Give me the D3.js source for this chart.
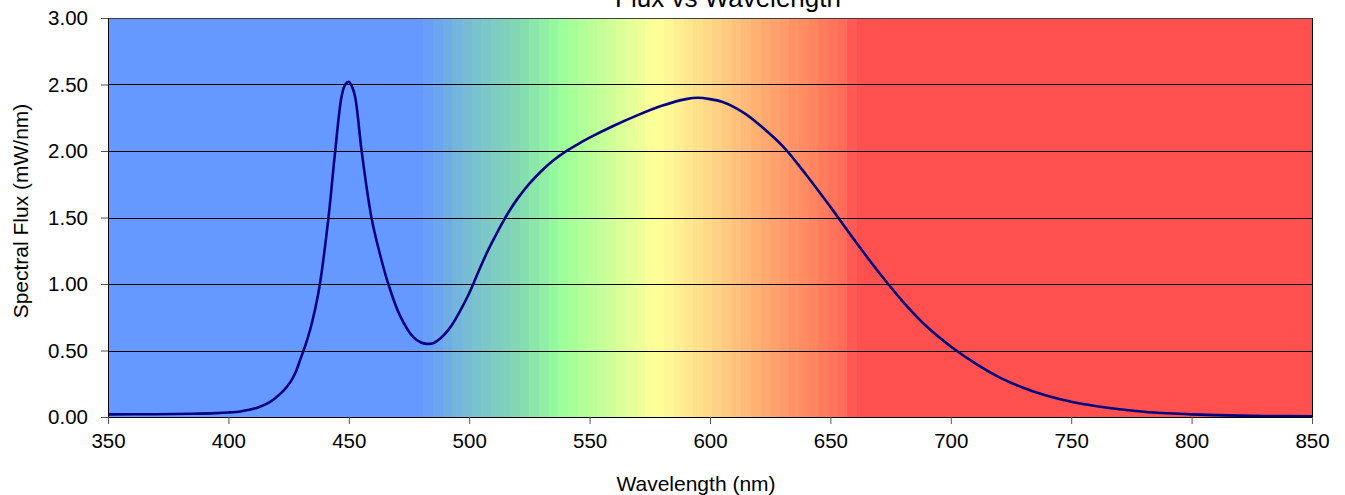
<!DOCTYPE html>
<html>
<head>
<meta charset="utf-8">
<script src="https://cdn.jsdelivr.net/npm/d3@7"></script>
<style>
  body { margin: 0; background: #fff; }
  svg text { font-family: "Liberation Sans", Arial, sans-serif; fill: #000; }
</style>
</head>
<body>
<div id="chartArea"></div>
<script>
// spectral flux (nm, mW/nm)
var wavelengths = [350, 370, 385, 395, 400, 405, 408, 412, 417, 420, 423, 426, 428, 430, 432, 434, 436, 438, 441.5, 444.3,
                   447, 448.5, 450, 451.2, 452.6, 455.4, 459.5, 463, 466.4, 471.3, 476.8, 480, 482.3, 485, 488, 492,
                   496, 500, 504, 508, 512, 516, 520, 525, 530, 535, 540, 545, 550, 560, 570, 580, 590, 595, 600, 605, 610,
                   615, 620, 630, 640, 650, 660, 670, 680, 690, 700, 710, 720, 730, 740, 750, 760, 770, 780, 790, 800,
                   815, 830, 850];
var flux = [0.02, 0.021, 0.024, 0.029, 0.034, 0.042, 0.052, 0.07, 0.11, 0.15, 0.20, 0.27, 0.34, 0.44, 0.54, 0.66, 0.81, 1.0, 1.49, 1.99,
            2.41, 2.50, 2.52, 2.49, 2.41, 1.99, 1.49, 1.22, 1.0, 0.76, 0.60, 0.56, 0.55, 0.555, 0.59, 0.67,
            0.79, 0.93, 1.10, 1.26, 1.40, 1.53, 1.64, 1.755, 1.85, 1.93, 1.995, 2.05, 2.10, 2.19, 2.27, 2.34, 2.39, 2.40, 2.39, 2.37, 2.33,
            2.275, 2.205, 2.04, 1.82, 1.58, 1.33, 1.09, 0.87, 0.68, 0.53, 0.405, 0.30, 0.22, 0.16, 0.115, 0.083, 0.058, 0.04, 0.028, 0.02,
            0.012, 0.008, 0.006];

var xTicks = [350, 400, 450, 500, 550, 600, 650, 700, 750, 800, 850];
var yTicks = [0, 0.5, 1, 1.5, 2, 2.5, 3];

// background spectrum: colour stops (nm) and the 4 nm band steps
var spectrumStops = [480, 500, 520, 538, 560, 578, 600, 620, 640, 656, 661];
var spectrumColors = ['#6699ff', '#78bed2', '#82d7b4', '#99ff99', '#d2ff99', '#ffff99', '#ffd787', '#ffaf73', '#ff8a62', '#ff6a58', '#ff5050'];
var bandStart = 481, bandEnd = 661, bandStep = 4;

var width = 1345, height = 495;
var margin = {top: 18, right: 33, bottom: 78, left: 108};
var w = width - margin.left - margin.right;
var h = height - margin.top - margin.bottom;

var xscale = d3.scaleLinear().domain([350, 850]).range([0, w]);
var yscale = d3.scaleLinear().domain([0, 3]).range([h, 0]);
var colorScale = d3.scaleLinear().domain(spectrumStops).range(spectrumColors).interpolate(d3.interpolateRgb);

var svg = d3.select('#chartArea').append('svg')
    .attr('width', width)
    .attr('height', height);

var g = svg.append('g')
    .attr('transform', 'translate(' + margin.left + ',' + margin.top + ')');

// plain blue on the left, plain red on the right
g.append('rect')
    .attr('x', 0).attr('y', 0)
    .attr('width', xscale(bandStart)).attr('height', h)
    .attr('fill', spectrumColors[0]);
g.append('rect')
    .attr('x', xscale(bandEnd)).attr('y', 0)
    .attr('width', w - xscale(bandEnd)).attr('height', h)
    .attr('fill', spectrumColors[spectrumColors.length - 1]);

var bands = d3.range(bandStart, bandEnd, bandStep);
g.selectAll('rect.band').data(bands).enter().append('rect')
    .attr('class', 'band')
    .attr('x', function(d) { return xscale(d); })
    .attr('y', 0)
    .attr('width', function(d) { return xscale(Math.min(d + bandStep, bandEnd)) - xscale(d) + 0.5; })
    .attr('height', h)
    .attr('fill', function(d) { return colorScale(d + bandStep / 2); })
    .attr('shape-rendering', 'crispEdges');

// horizontal gridlines
g.selectAll('line.grid').data(yTicks).enter().append('line')
    .attr('class', 'grid')
    .attr('x1', 0).attr('x2', w)
    .attr('y1', function(d) { return Math.round(yscale(d)) + 0.5; })
    .attr('y2', function(d) { return Math.round(yscale(d)) + 0.5; })
    .attr('stroke', function(d) { return d === 3 ? '#404040' : '#000'; })
    .attr('stroke-width', 1);

// right border
g.append('line')
    .attr('x1', w + 0.5).attr('x2', w + 0.5)
    .attr('y1', 0).attr('y2', h)
    .attr('stroke', '#000');

// the spectrum curve
var line = d3.line()
    .x(function(d, i) { return xscale(wavelengths[i]); })
    .y(function(d) { return yscale(d); })
    .curve(d3.curveCatmullRom.alpha(0.5));

g.append('path')
    .datum(flux)
    .attr('d', line)
    .attr('fill', 'none')
    .attr('stroke', '#000080')
    .attr('stroke-width', 2.6)
    .attr('stroke-linejoin', 'round');

// axes
var yAxis = g.append('g')
    .call(d3.axisLeft(yscale).tickValues(yTicks).tickFormat(d3.format('.2f')).tickSizeOuter(0).tickSize(7).tickPadding(13));
var xAxis = g.append('g')
    .attr('transform', 'translate(0,' + h + ')')
    .call(d3.axisBottom(xscale).tickValues(xTicks).tickFormat(d3.format('d')).tickSizeOuter(0).tickSize(7).tickPadding(9));

[yAxis, xAxis].forEach(function(ax) {
    ax.select('.domain').attr('stroke', '#000');
    ax.selectAll('.tick line').attr('stroke', '#555');
    ax.selectAll('.tick text')
        .style('font-family', '"Liberation Sans", Arial, sans-serif')
        .style('font-size', '20.5px')
        .attr('fill', '#000');
});

// titles
svg.append('text')
    .attr('x', 728)
    .attr('y', 7)
    .attr('text-anchor', 'middle')
    .style('font-size', '26px')
    .text('Flux vs Wavelength');

svg.append('text')
    .attr('x', 696)
    .attr('y', 491)
    .attr('text-anchor', 'middle')
    .style('font-size', '21px')
    .text('Wavelength (nm)');

svg.append('text')
    .attr('transform', 'translate(28,' + 211 + ') rotate(-90)')
    .attr('text-anchor', 'middle')
    .style('font-size', '21px')
    .text('Spectral Flux (mW/nm)');
</script>
</body>
</html>
